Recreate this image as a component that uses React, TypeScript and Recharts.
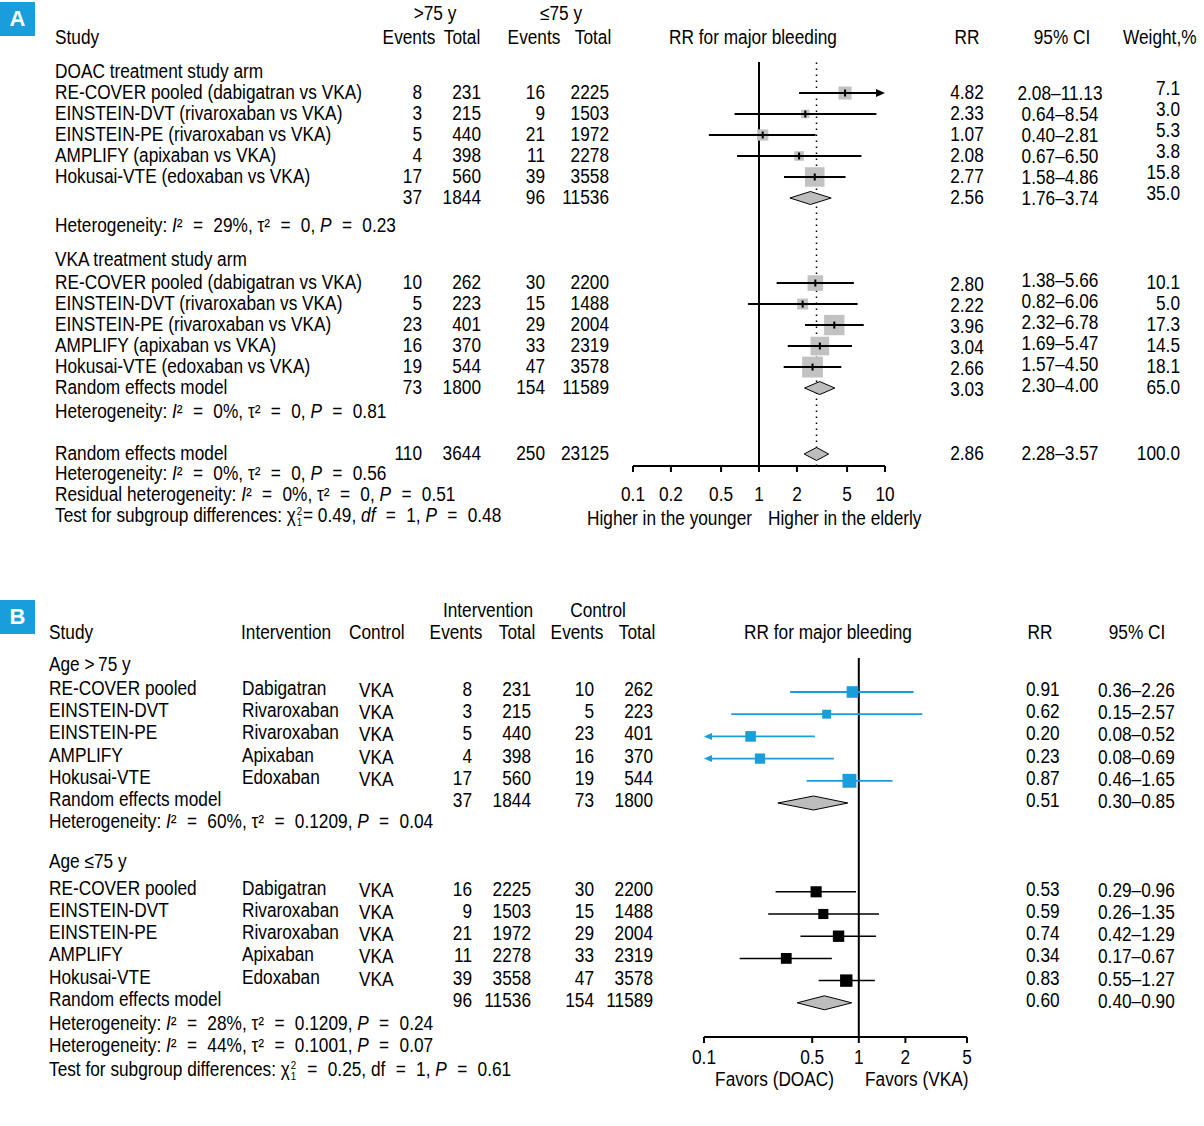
import React from 'react';
import { ScatterChart, Scatter, XAxis, YAxis, ReferenceLine } from 'recharts';

// condensed look: Arial-metric sans squeezed horizontally
const FONT = "'Liberation Sans', Arial, sans-serif";
const FS = 19.5;
const SX = 0.885;
const BLUE = '#1a9ddb';
const GREY = '#c2c2c2';
const EQ = <span style={{ margin: '0 0.6em' }}>=</span>;

// ---- panel A: elderly vs younger, by treatment arm ----
const trialsA = [
  'RE-COVER pooled (dabigatran vs VKA)',
  'EINSTEIN-DVT (rivaroxaban vs VKA)',
  'EINSTEIN-PE (rivaroxaban vs VKA)',
  'AMPLIFY (apixaban vs VKA)',
  'Hokusai-VTE (edoxaban vs VKA)',
];

const doacOldEvents = [8, 3, 5, 4, 17];
const doacOldTotal = [231, 215, 440, 398, 560];
const doacYoungEvents = [16, 9, 21, 11, 39];
const doacYoungTotal = [2225, 1503, 1972, 2278, 3558];
const doacRR = [4.82, 2.33, 1.07, 2.08, 2.77];
const doacLo = [2.08, 0.64, 0.4, 0.67, 1.58];
const doacHi = [11.13, 8.54, 2.81, 6.5, 4.86];
const doacWeight = [7.1, 3.0, 5.3, 3.8, 15.8];
const doacPooled = { ev1: 37, n1: 1844, ev2: 96, n2: 11536, rr: 2.56, lo: 1.76, hi: 3.74, w: 35.0 };

const vkaOldEvents = [10, 5, 23, 16, 19];
const vkaOldTotal = [262, 223, 401, 370, 544];
const vkaYoungEvents = [30, 15, 29, 33, 47];
const vkaYoungTotal = [2200, 1488, 2004, 2319, 3578];
const vkaRR = [2.8, 2.22, 3.96, 3.04, 2.66];
const vkaLo = [1.38, 0.82, 2.32, 1.69, 1.57];
const vkaHi = [5.66, 6.06, 6.78, 5.47, 4.5];
const vkaWeight = [10.1, 5.0, 17.3, 14.5, 18.1];
const vkaPooled = { ev1: 73, n1: 1800, ev2: 154, n2: 11589, rr: 3.03, lo: 2.3, hi: 4.0, w: 65.0 };

const overallA = { ev1: 110, n1: 3644, ev2: 250, n2: 23125, rr: 2.86, lo: 2.28, hi: 3.57, w: 100.0 };
const ticksA = [0.1, 0.2, 0.5, 1, 2, 5, 10];

// ---- panel B: DOAC vs VKA, by age group ----
const trialsB = ['RE-COVER pooled', 'EINSTEIN-DVT', 'EINSTEIN-PE', 'AMPLIFY', 'Hokusai-VTE'];
const drugsB = ['Dabigatran', 'Rivaroxaban', 'Rivaroxaban', 'Apixaban', 'Edoxaban'];

const oldIntEvents = [8, 3, 5, 4, 17];
const oldIntTotal = [231, 215, 440, 398, 560];
const oldCtlEvents = [10, 5, 23, 16, 19];
const oldCtlTotal = [262, 223, 401, 370, 544];
const oldRR = [0.91, 0.62, 0.2, 0.23, 0.87];
const oldLo = [0.36, 0.15, 0.08, 0.08, 0.46];
const oldHi = [2.26, 2.57, 0.52, 0.69, 1.65];
const oldWeight = [21.6, 12.8, 18.0, 16.7, 30.9];
const oldPooled = { ev1: 37, n1: 1844, ev2: 73, n2: 1800, rr: 0.51, lo: 0.3, hi: 0.85 };

const youngIntEvents = [16, 9, 21, 11, 39];
const youngIntTotal = [2225, 1503, 1972, 2278, 3558];
const youngCtlEvents = [30, 15, 29, 33, 47];
const youngCtlTotal = [2200, 1488, 2004, 2319, 3578];
const youngRR = [0.53, 0.59, 0.74, 0.34, 0.83];
const youngLo = [0.29, 0.26, 0.42, 0.17, 0.55];
const youngHi = [0.96, 1.35, 1.29, 0.67, 1.27];
const youngWeight = [19.7, 16.3, 20.8, 18.6, 24.6];
const youngPooled = { ev1: 96, n1: 11536, ev2: 154, n2: 11589, rr: 0.6, lo: 0.4, hi: 0.9 };

const ticksB = [0.1, 0.5, 1, 2, 5];

// row layout (page pixels)
const A_ROW0 = 93, A_STEP = 21, A_TOP = 62, A_AXIS = 466, A_LEFT = 633, A_RIGHT = 885;
const B_ROW0 = 692, B_STEP = 22.2, B_TOP = 658, B_AXIS = 1037, B_LEFT = 704, B_RIGHT = 967;
const B_OFFSET = 560;
const AXIS_H = 40;
const yA = (r: number) => A_ROW0 + A_STEP * r;
const yB = (r: number) => B_ROW0 + B_STEP * r;

const ci = (lo: number, hi: number) => `${lo.toFixed(2)}\u2013${hi.toFixed(2)}`;

const Txt = ({ x, y, anchor = 'start', children, style }: any) => {
  const tx = anchor === 'middle' ? '-50%' : anchor === 'end' ? '-100%' : '0';
  const ox = anchor === 'middle' ? 'center' : anchor === 'end' ? 'right' : 'left';
  return (
    <div
      style={{
        position: 'absolute',
        left: x,
        top: y,
        transform: `translate(${tx}, -50%) scaleX(${SX})`,
        transformOrigin: `${ox} center`,
        whiteSpace: 'nowrap',
        lineHeight: 1,
        ...style,
      }}
    >
      {children}
    </div>
  );
};

// chi with stacked superscript 2 / subscript 1, kept out of the line box
const Chi = () => (
  <>
    χ
    <span style={{ position: 'relative', display: 'inline-block', width: 8 }}>
      <span style={{ position: 'absolute', left: 1, top: -16, fontSize: 11, lineHeight: 1 }}>2</span>
      <span style={{ position: 'absolute', left: 1, top: -5, fontSize: 11, lineHeight: 1 }}>1</span>
    </span>
  </>
);

const Het = ({ prefix = 'Heterogeneity', i2, tau2, p }: any) => (
  <>
    {prefix}: <i>I</i>²{EQ}{i2}%, τ²{EQ}{tau2}, <i>P</i>{EQ}{p}
  </>
);

const AxisTick = ({ x, y, payload }: any) => (
  <g transform={`translate(${x},${y})`}>
    <text transform={`scale(${SX},1)`} textAnchor="middle" dy="0.71em" fontSize={FS} fontFamily={FONT} fill="#000">
      {payload.value}
    </text>
  </g>
);

type CiOpts = {
  color: string;
  width: number;
  side: number;
  fill: string;
  squareUnder: boolean;
  tick: boolean;
  head: [number, number];
  arrowL?: boolean;
  arrowR?: boolean;
};

// whisker, weighted square and clipped-arrow heads from the scaled lo / est / hi points
const ciShape = (o: CiOpts) => (props: any) => {
  const [a, m, b] = props.points;
  const y = m.y;
  const h = o.side / 2;
  const [hl, hw] = o.head;
  const x1 = o.arrowL ? a.x + hl : a.x;
  const x2 = o.arrowR ? b.x - hl : b.x;
  const sq = <rect key="sq" x={m.x - h} y={y - h} width={o.side} height={o.side} fill={o.fill} />;
  const ln = <line key="ln" x1={x1} x2={x2} y1={y} y2={y} stroke={o.color} strokeWidth={o.width} />;
  return (
    <g>
      {o.squareUnder ? [sq, ln] : [ln, sq]}
      {o.arrowL && <polygon points={`${a.x},${y} ${a.x + hl},${y - hw} ${a.x + hl},${y + hw}`} fill={o.color} />}
      {o.arrowR && <polygon points={`${b.x},${y} ${b.x - hl},${y - hw} ${b.x - hl},${y + hw}`} fill={o.color} />}
      {o.tick && <line x1={m.x} x2={m.x} y1={y - 3.5} y2={y + 3.5} stroke="#000" strokeWidth={2} />}
    </g>
  );
};

const diamondShape = (half: number) => (props: any) => {
  const [a, m, b] = props.points;
  return (
    <polygon
      points={`${a.x},${m.y} ${m.x},${m.y - half} ${b.x},${m.y} ${m.x},${m.y + half}`}
      fill="#bdbdbd"
      stroke="#000"
      strokeWidth={1}
    />
  );
};

const noDot = () => <g />;

const estimate = (key: string, row: number, rr: number, lo: number, hi: number, dom: number[], o: CiOpts) => (
  <Scatter
    key={key}
    data={[
      { x: Math.max(lo, dom[0]), y: row },
      { x: rr, y: row },
      { x: Math.min(hi, dom[1]), y: row },
    ]}
    shape={noDot}
    line={ciShape({ ...o, arrowL: lo < dom[0], arrowR: hi > dom[1] })}
    isAnimationActive={false}
  />
);

const pooled = (key: string, row: number, rr: number, lo: number, hi: number, half: number) => (
  <Scatter
    key={key}
    data={[
      { x: lo, y: row },
      { x: rr, y: row },
      { x: hi, y: row },
    ]}
    shape={noDot}
    line={diamondShape(half)}
    isAnimationActive={false}
  />
);

const axisProps = {
  type: 'number' as const,
  dataKey: 'x',
  scale: 'log' as const,
  allowDataOverflow: true,
  interval: 0,
  height: AXIS_H,
  axisLine: { stroke: '#000', strokeWidth: 2 },
  tickLine: { stroke: '#000', strokeWidth: 2 },
  tickSize: 6,
  tick: <AxisTick />,
};

// rows of panel A
const rowsDoac = trialsA.map((_, i) => i);
const rowsVka = trialsA.map((_, i) => 9.05 + i);
const A_DOAC_POOL = 5, A_VKA_POOL = 14.05, A_ALL = 17.19;

const ForestA = () => {
  const dom = [0.1, 10];
  const sq = (w: number) => 4.9 * Math.sqrt(w);
  const base = { color: '#000', width: 2, fill: GREY, squareUnder: true, tick: true, head: [9, 4] as [number, number] };
  const h = 540;
  return (
    <div style={{ position: 'absolute', left: 0, top: 0 }}>
      <ScatterChart
        width={1204}
        height={h}
        margin={{ top: A_TOP, left: A_LEFT, right: 1204 - A_RIGHT, bottom: h - A_AXIS - AXIS_H }}
      >
        <XAxis {...axisProps} domain={dom} ticks={ticksA} tickMargin={15} />
        <YAxis
          type="number"
          dataKey="y"
          hide
          reversed
          allowDataOverflow
          domain={[(A_TOP - A_ROW0) / A_STEP, (A_AXIS - A_ROW0) / A_STEP]}
        />
        <ReferenceLine x={1} stroke="#000" strokeWidth={2} />
        <ReferenceLine x={overallA.rr} stroke="#000" strokeWidth={1.5} strokeDasharray="1.5 4.5" />
        {rowsDoac.map((r, i) =>
          estimate(`d${i}`, r, doacRR[i], doacLo[i], doacHi[i], dom, { ...base, side: sq(doacWeight[i]) })
        )}
        {pooled('dp', A_DOAC_POOL, doacPooled.rr, doacPooled.lo, doacPooled.hi, 6.5)}
        {rowsVka.map((r, i) =>
          estimate(`v${i}`, r, vkaRR[i], vkaLo[i], vkaHi[i], dom, { ...base, side: sq(vkaWeight[i]) })
        )}
        {pooled('vp', A_VKA_POOL, vkaPooled.rr, vkaPooled.lo, vkaPooled.hi, 6.5)}
        {pooled('all', A_ALL, overallA.rr, overallA.lo, overallA.hi, 6.5)}
      </ScatterChart>
    </div>
  );
};

// dy shifts per column: [rr, ci, weight]
const numsA = (key: string, r: number, s: any, dy: number[] = [0, 0, 0]) => {
  const y = yA(r);
  return (
    <React.Fragment key={key}>
      <Txt x={422} y={y} anchor="end">{s.ev1}</Txt>
      <Txt x={481} y={y} anchor="end">{s.n1}</Txt>
      <Txt x={545} y={y} anchor="end">{s.ev2}</Txt>
      <Txt x={609} y={y} anchor="end">{s.n2}</Txt>
      <Txt x={967} y={y + dy[0]} anchor="middle">{s.rr.toFixed(2)}</Txt>
      <Txt x={1060} y={y + dy[1]} anchor="middle">{ci(s.lo, s.hi)}</Txt>
      <Txt x={1180} y={y + dy[2]} anchor="end">{s.w.toFixed(1)}</Txt>
    </React.Fragment>
  );
};

const TextA = () => (
  <>
    <Txt x={435} y={14} anchor="middle">&gt;75 y</Txt>
    <Txt x={561} y={14} anchor="middle">≤75 y</Txt>
    <Txt x={55} y={38}>Study</Txt>
    <Txt x={409} y={38} anchor="middle">Events</Txt>
    <Txt x={462} y={38} anchor="middle">Total</Txt>
    <Txt x={534} y={38} anchor="middle">Events</Txt>
    <Txt x={593} y={38} anchor="middle">Total</Txt>
    <Txt x={753} y={38} anchor="middle">RR for major bleeding</Txt>
    <Txt x={967} y={38} anchor="middle">RR</Txt>
    <Txt x={1062} y={38} anchor="middle">95% CI</Txt>
    <Txt x={1123} y={38}>Weight,%</Txt>

    <Txt x={55} y={yA(-1)}>DOAC treatment study arm</Txt>
    {rowsDoac.map((r, i) => (
      <React.Fragment key={`dt${i}`}>
        <Txt x={55} y={yA(r)}>{trialsA[i]}</Txt>
        {numsA(`dn${i}`, r, {
          ev1: doacOldEvents[i], n1: doacOldTotal[i], ev2: doacYoungEvents[i], n2: doacYoungTotal[i],
          rr: doacRR[i], lo: doacLo[i], hi: doacHi[i], w: doacWeight[i],
        }, [0, 1, -4])}
      </React.Fragment>
    ))}
    {numsA('dp', A_DOAC_POOL, doacPooled, [0, 1, -4])}
    <Txt x={55} y={yA(6.33)}><Het i2="29" tau2="0" p="0.23" /></Txt>

    <Txt x={55} y={yA(7.95)}>VKA treatment study arm</Txt>
    {rowsVka.map((r, i) => (
      <React.Fragment key={`vt${i}`}>
        <Txt x={55} y={yA(r)}>{trialsA[i]}</Txt>
        {numsA(`vn${i}`, r, {
          ev1: vkaOldEvents[i], n1: vkaOldTotal[i], ev2: vkaYoungEvents[i], n2: vkaYoungTotal[i],
          rr: vkaRR[i], lo: vkaLo[i], hi: vkaHi[i], w: vkaWeight[i],
        }, [2, -2, 0])}
      </React.Fragment>
    ))}
    <Txt x={55} y={yA(A_VKA_POOL)}>Random effects model</Txt>
    {numsA('vp', A_VKA_POOL, vkaPooled, [2, -2, 0])}
    <Txt x={55} y={yA(15.2)}><Het i2="0" tau2="0" p="0.81" /></Txt>

    <Txt x={55} y={yA(A_ALL)}>Random effects model</Txt>
    {numsA('all', A_ALL, overallA)}
    <Txt x={55} y={yA(18.14)}><Het i2="0" tau2="0" p="0.56" /></Txt>
    <Txt x={55} y={yA(19.14)}><Het prefix="Residual heterogeneity" i2="0" tau2="0" p="0.51" /></Txt>
    <Txt x={55} y={yA(20.14)}>
      Test for subgroup differences: <Chi />= 0.49, <i>df</i>{EQ}1, <i>P</i>{EQ}0.48
    </Txt>

    <Txt x={752} y={519} anchor="end">Higher in the younger</Txt>
    <Txt x={768} y={519}>Higher in the elderly</Txt>
  </>
);

const rowsOld = trialsB.map((_, i) => i);
const rowsYoung = trialsB.map((_, i) => 9 + i);
const B_OLD_POOL = 5, B_YOUNG_POOL = 14;

const ForestB = () => {
  const dom = [0.1, 5];
  const sq = (w: number) => 2.5 * Math.sqrt(w);
  const h = 1126 - B_OFFSET;
  const blue = { color: BLUE, width: 1.8, fill: BLUE, squareUnder: false, tick: false, head: [8, 3.5] as [number, number] };
  const black = { ...blue, color: '#000', fill: '#000', width: 1.5 };
  return (
    <div style={{ position: 'absolute', left: 0, top: B_OFFSET }}>
      <ScatterChart
        width={1204}
        height={h}
        margin={{ top: B_TOP - B_OFFSET, left: B_LEFT, right: 1204 - B_RIGHT, bottom: h - (B_AXIS - B_OFFSET) - AXIS_H }}
      >
        <XAxis {...axisProps} domain={dom} ticks={ticksB} tickMargin={7} />
        <YAxis
          type="number"
          dataKey="y"
          hide
          reversed
          allowDataOverflow
          domain={[(B_TOP - B_ROW0) / B_STEP, (B_AXIS - B_ROW0) / B_STEP]}
        />
        <ReferenceLine x={1} stroke="#000" strokeWidth={2} />
        {rowsOld.map((r, i) =>
          estimate(`o${i}`, r, oldRR[i], oldLo[i], oldHi[i], dom, { ...blue, side: sq(oldWeight[i]) })
        )}
        {pooled('op', B_OLD_POOL, oldPooled.rr, oldPooled.lo, oldPooled.hi, 7)}
        {rowsYoung.map((r, i) =>
          estimate(`y${i}`, r, youngRR[i], youngLo[i], youngHi[i], dom, { ...black, side: sq(youngWeight[i]) })
        )}
        {pooled('yp', B_YOUNG_POOL, youngPooled.rr, youngPooled.lo, youngPooled.hi, 7)}
      </ScatterChart>
    </div>
  );
};

const numsB = (key: string, r: number, s: any) => {
  const y = yB(r) - 2;
  return (
    <React.Fragment key={key}>
      <Txt x={472} y={y} anchor="end">{s.ev1}</Txt>
      <Txt x={531} y={y} anchor="end">{s.n1}</Txt>
      <Txt x={594} y={y} anchor="end">{s.ev2}</Txt>
      <Txt x={653} y={y} anchor="end">{s.n2}</Txt>
      <Txt x={1026} y={y}>{s.rr.toFixed(2)}</Txt>
      <Txt x={1098} y={y + 1}>{ci(s.lo, s.hi)}</Txt>
    </React.Fragment>
  );
};

const TextB = () => (
  <>
    <Txt x={488} y={611} anchor="middle">Intervention</Txt>
    <Txt x={598} y={611} anchor="middle">Control</Txt>
    <Txt x={49} y={633}>Study</Txt>
    <Txt x={241} y={633}>Intervention</Txt>
    <Txt x={349} y={633}>Control</Txt>
    <Txt x={456} y={633} anchor="middle">Events</Txt>
    <Txt x={517} y={633} anchor="middle">Total</Txt>
    <Txt x={577} y={633} anchor="middle">Events</Txt>
    <Txt x={637} y={633} anchor="middle">Total</Txt>
    <Txt x={828} y={633} anchor="middle">RR for major bleeding</Txt>
    <Txt x={1040} y={633} anchor="middle">RR</Txt>
    <Txt x={1137} y={633} anchor="middle">95% CI</Txt>

    <Txt x={49} y={yB(-1.2)}>Age &gt;{'\u2009'}75 y</Txt>
    {rowsOld.map((r, i) => (
      <React.Fragment key={`ot${i}`}>
        <Txt x={49} y={yB(r) - 3}>{trialsB[i]}</Txt>
        <Txt x={242} y={yB(r) - 3}>{drugsB[i]}</Txt>
        <Txt x={359} y={yB(r) - 1}>VKA</Txt>
        {numsB(`on${i}`, r, {
          ev1: oldIntEvents[i], n1: oldIntTotal[i], ev2: oldCtlEvents[i], n2: oldCtlTotal[i],
          rr: oldRR[i], lo: oldLo[i], hi: oldHi[i],
        })}
      </React.Fragment>
    ))}
    <Txt x={49} y={yB(B_OLD_POOL) - 3}>Random effects model</Txt>
    {numsB('op', B_OLD_POOL, oldPooled)}
    <Txt x={49} y={yB(5.86)}><Het i2="60" tau2="0.1209" p="0.04" /></Txt>

    <Txt x={49} y={yB(7.66)}>Age ≤75 y</Txt>
    {rowsYoung.map((r, i) => (
      <React.Fragment key={`yt${i}`}>
        <Txt x={49} y={yB(r) - 3}>{trialsB[i]}</Txt>
        <Txt x={242} y={yB(r) - 3}>{drugsB[i]}</Txt>
        <Txt x={359} y={yB(r) - 1}>VKA</Txt>
        {numsB(`yn${i}`, r, {
          ev1: youngIntEvents[i], n1: youngIntTotal[i], ev2: youngCtlEvents[i], n2: youngCtlTotal[i],
          rr: youngRR[i], lo: youngLo[i], hi: youngHi[i],
        })}
      </React.Fragment>
    ))}
    <Txt x={49} y={yB(B_YOUNG_POOL) - 3}>Random effects model</Txt>
    {numsB('yp', B_YOUNG_POOL, youngPooled)}
    <Txt x={49} y={yB(14.95)}><Het i2="28" tau2="0.1209" p="0.24" /></Txt>
    <Txt x={49} y={yB(15.95)}><Het i2="44" tau2="0.1001" p="0.07" /></Txt>
    <Txt x={49} y={yB(17.03)}>
      Test for subgroup differences: <Chi />{EQ}0.25, df{EQ}1, <i>P</i>{EQ}0.61
    </Txt>

    <Txt x={834} y={1080} anchor="end">Favors (DOAC)</Txt>
    <Txt x={865} y={1080}>Favors (VKA)</Txt>
  </>
);

const PanelTag = ({ top, letter }: { top: number; letter: string }) => (
  <div
    style={{
      position: 'absolute',
      left: 0,
      top,
      width: 35,
      height: 34,
      background: BLUE,
      color: '#fff',
      fontFamily: FONT,
      fontWeight: 700,
      fontSize: 22,
      lineHeight: '34px',
      textAlign: 'center',
    }}
  >
    {letter}
  </div>
);

export default function App() {
  return (
    <div
      style={{
        position: 'absolute',
        left: 0,
        top: 0,
        width: 1204,
        height: 1126,
        overflow: 'hidden',
        background: '#fff',
        color: '#000',
        fontFamily: FONT,
        fontSize: FS,
      }}
    >
      <PanelTag top={2} letter="A" />
      <PanelTag top={600} letter="B" />
      <TextA />
      <TextB />
      <ForestA />
      <ForestB />
    </div>
  );
}
